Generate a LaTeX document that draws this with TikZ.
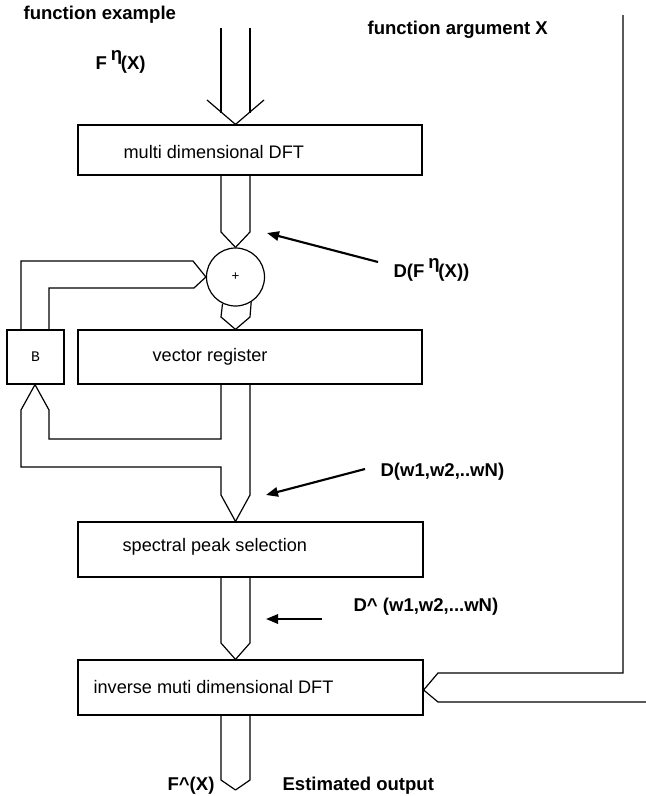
\documentclass[tikz,border=0pt]{standalone}
\usepackage{fontspec}
\setmainfont{Liberation Sans}
\setmonofont{Liberation Mono}
\usetikzlibrary{arrows.meta,fit}

\begin{document}
\begin{tikzpicture}[x=0.75pt,y=-0.75pt,
    line width=0.9pt, line join=miter,
    blk/.style={draw, inner sep=0pt, fit={#1}},
    btxt/.style={anchor=west, inner sep=0pt, font=\fontsize{13.6}{16}\selectfont},
    lbl/.style={anchor=west, inner sep=0pt, font=\bfseries\fontsize{13.9}{16}\selectfont},
    pointer/.style={line width=1.6pt, -{Triangle[length=9pt,width=7pt]}}]
  \useasboundingbox (0,0) rectangle (646,796);

  % bus rails
  \coordinate (bl) at (221,0);
  \coordinate (br) at (250,0);
  \coordinate (bc) at (235.5,0);

  % processing blocks
  \node[blk={(78,125) (422,175)}] (dft) {};
  \node[draw, circle, minimum size=43.5pt, inner sep=0pt] (sum) at (235.5,277) {+};
  \node[blk={(78,330) (422,384)}] (reg) {};
  \node[blk={(7,330) (64,384)}] (bbox) {};
  \node[blk={(78,522) (423,577)}] (peak) {};
  \node[blk={(78,660) (423,715)}] (idft) {};

  % block texts
  \node[btxt] (dft-t) at (123,152) {multi dimensional DFT};
  \node[btxt] (reg-t) at (152,357) {vector register};
  \node[font=\ttfamily\fontsize{11}{13}\selectfont, inner sep=0pt] (b-t) at (bbox.center) {B};
  \node[btxt] (peak-t) at (122,547) {spectral peak selection};
  \node[btxt] (idft-t) at (93,687) {inverse muti dimensional DFT};

  % input bus into the DFT
  \coordinate (inL) at (221,28);
  \coordinate (inR) at (250,28);
  \draw (inL) -- (221,113);
  \draw (inR) -- (250,113);
  \draw (207,100) -- (dft.north -| bc) -- (264,100);

  % DFT -> adder
  \draw (dft.south -| bl) -- (221,232) -- (sum.north);
  \draw (dft.south -| br) -- (250,232) -- (sum.north);

  % feedback from B into the adder
  \draw (bbox.north -| 21,0) -- (21,261) -- (193,261) -- (sum.west);
  \draw (bbox.north -| 49,0) -- (49,288) -- (194,288) -- (sum.west);

  % adder -> vector register
  \draw (sum.-116.6) -- (221,317) -- (reg.north -| bc);
  \draw (sum.-58.9) -- (250,317) -- (reg.north -| bc);

  % register output back into B
  \draw (reg.south -| bl) -- (221,439) -- (49,439) -- (49,410) -- (bbox.south -| 35,0);
  \draw (bbox.south -| 35,0) -- (21,410) -- (21,467) -- (221,467) -- (221,495) -- (peak.north -| bc);
  \draw (reg.south -| br) -- (250,495) -- (peak.north -| bc);

  % peak selection -> inverse DFT
  \draw (peak.south -| bl) -- (221,643) -- (idft.north -| bc);
  \draw (peak.south -| br) -- (250,643) -- (idft.north -| bc);

  % argument X fed into the inverse DFT
  \coordinate (argT) at (623,15);
  \coordinate (argB) at (646,702);
  \draw (argT) -- (623,673) -- (438,673) -- (idft.east |- 0,690);
  \draw (argB) -- (438,702) -- (idft.east |- 0,690);

  % output bus
  \coordinate (outT) at (235.5,790);
  \draw (idft.south -| bl) -- (221,780) -- (outT);
  \draw (idft.south -| br) -- (250,780) -- (outT);

  % labels
  \node[lbl] (fex) at (23,15) {function example};
  \node[lbl] (fn) at (95,62) {F\kern3pt\raisebox{7pt}{η}\kern-1pt(X)};
  \node[lbl] (farg) at (367,30) {function argument X};
  \node[lbl] (dfx) at (393,270) {D(F\kern3pt\raisebox{7pt}{η}\kern-1pt(X))};
  \node[lbl] (dw) at (380,472) {D(w1,w2,..wN)};
  \node[lbl] (dhw) at (353,607) {D\textasciicircum{} (w1,w2,...wN)};
  \node[lbl] (fout) at (167,786) {F\textasciicircum(X)};
  \node[lbl] (est) at (282,786) {Estimated output};

  % pointers
  \coordinate (p1s) at (378,262);
  \coordinate (p1e) at (267,233);
  \coordinate (p2s) at (365,469);
  \coordinate (p2e) at (266,495);
  \coordinate (p3s) at (322,619);
  \coordinate (p3e) at (266,619);
  \draw[pointer] (p1s) -- (p1e);
  \draw[pointer] (p2s) -- (p2e);
  \draw[pointer] (p3s) -- (p3e);
\end{tikzpicture}
\end{document}
